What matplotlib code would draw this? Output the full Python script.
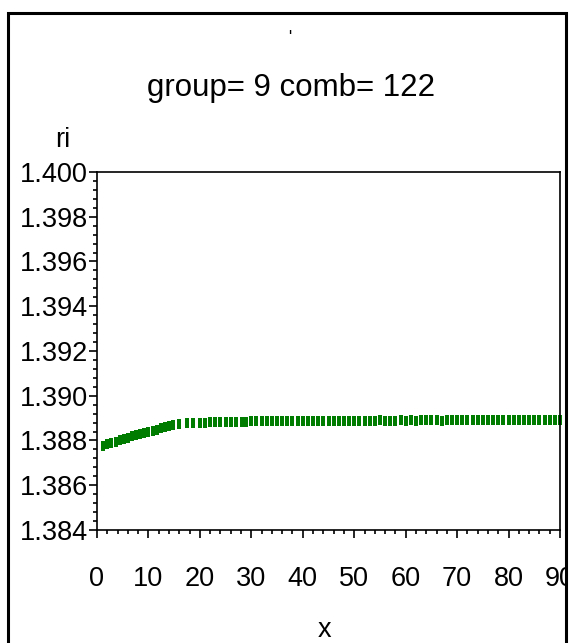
import matplotlib
matplotlib.use("Agg")
import matplotlib.pyplot as plt
from matplotlib.patches import Rectangle
from matplotlib.ticker import MultipleLocator
from matplotlib.transforms import Bbox

# ri against x for one group/comb combination
x = [1.2, 2.0, 2.8, 3.6, 4.4, 5.2, 6.0, 6.8, 7.6, 8.4, 9.2, 10.0, 10.8,
     11.6, 12.4, 13.2, 14.0, 14.8, 16.0, 17.4, 18.6, 20.0, 21.0, 22.0,
     23.0, 24.0, 25.0, 26.0, 27.0, 28.2, 29.0, 30.0, 31.0, 32.0, 33.0,
     34.0, 35.0, 36.0, 37.0, 38.0, 39.0, 40.0, 41.0, 42.0, 43.0, 44.0,
     45.0, 46.0, 47.0, 48.0, 49.0, 50.0, 51.0, 52.0, 53.0, 54.0, 55.0,
     56.0, 57.0, 58.0, 59.0, 60.0, 61.0, 62.0, 63.0, 64.0, 65.0, 66.0,
     67.0, 68.0, 69.0, 70.0, 71.0, 72.0, 73.0, 74.0, 75.0, 76.0, 77.0,
     78.0, 79.0, 80.0, 81.0, 82.0, 83.0, 84.0, 85.0, 86.0, 87.0, 88.0,
     89.0, 90.0]
ri = [1.38775, 1.38784, 1.38790, 1.38795, 1.38801, 1.38806, 1.38812,
      1.38818, 1.38824, 1.38830, 1.38835, 1.38840, 1.38844, 1.38849,
      1.38854, 1.38859, 1.38864, 1.38870, 1.38874, 1.38877, 1.38878,
      1.38880, 1.38880, 1.38881, 1.38881, 1.38881, 1.38882, 1.38881,
      1.38881, 1.38882, 1.38883, 1.38885, 1.38886, 1.38886, 1.38886,
      1.38886, 1.38887, 1.38887, 1.38887, 1.38888, 1.38888, 1.38887,
      1.38888, 1.38888, 1.38888, 1.38889, 1.38888, 1.38889, 1.38889,
      1.38889, 1.38889, 1.38888, 1.38889, 1.38889, 1.38889, 1.38889,
      1.38890, 1.38889, 1.38889, 1.38889, 1.38890, 1.38889, 1.38890,
      1.38889, 1.38890, 1.38890, 1.38890, 1.38890, 1.38889, 1.38890,
      1.38890, 1.38890, 1.38890, 1.38890, 1.38890, 1.38890, 1.38890,
      1.38891, 1.38890, 1.38890, 1.38890, 1.38890, 1.38890, 1.38891,
      1.38890, 1.38890, 1.38890, 1.38891, 1.38890, 1.38890, 1.38890,
      1.38890]

group = 9
comb = 122

plt.rcParams["font.family"] = ["Liberation Sans", "DejaVu Sans"]

W, H = 569, 643
fig = plt.figure(figsize=(W / 100, H / 100), dpi=100)
ax = fig.add_axes([97 / W, 1 - 530 / H, (560 - 97) / W, (530 - 172) / H])

# tall thin rectangle as the plot symbol
bar = [(-0.25, -0.5), (0.25, -0.5), (0.25, 0.5), (-0.25, 0.5), (-0.25, -0.5)]
ax.plot(x, ri, ls="none", marker=bar, ms=6.5, color="#007c00",
        markeredgewidth=0, clip_on=False)

ax.set_xlim(0, 90)
ax.set_ylim(1.384, 1.400)
ax.xaxis.set_major_locator(MultipleLocator(10))
ax.xaxis.set_minor_locator(MultipleLocator(2))
ax.yaxis.set_major_locator(MultipleLocator(0.002))
ax.yaxis.set_minor_locator(MultipleLocator(0.0004))
ax.set_yticklabels([f"{v:.3f}" for v in ax.get_yticks()])
ax.tick_params(which="major", direction="out", length=6, width=1.2,
               labelsize=19.5, color="black")
ax.tick_params(which="minor", direction="out", length=3, width=1.2)
ax.tick_params(axis="x", pad=20)
ax.tick_params(axis="y", pad=0.5)
for s in ax.spines.values():
    s.set_linewidth(1.2)

# labels past the border are cut off at the frame
frame_box = Bbox.from_extents(0, 0, 565, H)
for lab in ax.get_xticklabels():
    lab.set_clip_on(True)
    lab.set_clip_box(frame_box)

fig.text(63 / W, 1 - 140 / H, "ri", fontsize=19.5, ha="center", va="center")
fig.text(325 / W, 1 - 630 / H, "x", fontsize=19.5, ha="center", va="center")
fig.text(291 / W, 1 - 88 / H, f"group= {group} comb= {comb}", fontsize=22.5,
         ha="center", va="center")
fig.text(290 / W, 1 - 38 / H, "'", fontsize=12, ha="center", va="center")

# outer border
fig.add_artist(Rectangle((8 / W, -0.05), (566 - 8) / W, 1.05 - 13 / H,
                         transform=fig.transFigure, fill=False,
                         edgecolor="black", linewidth=2.2))

fig.savefig("out.png", dpi=100)
